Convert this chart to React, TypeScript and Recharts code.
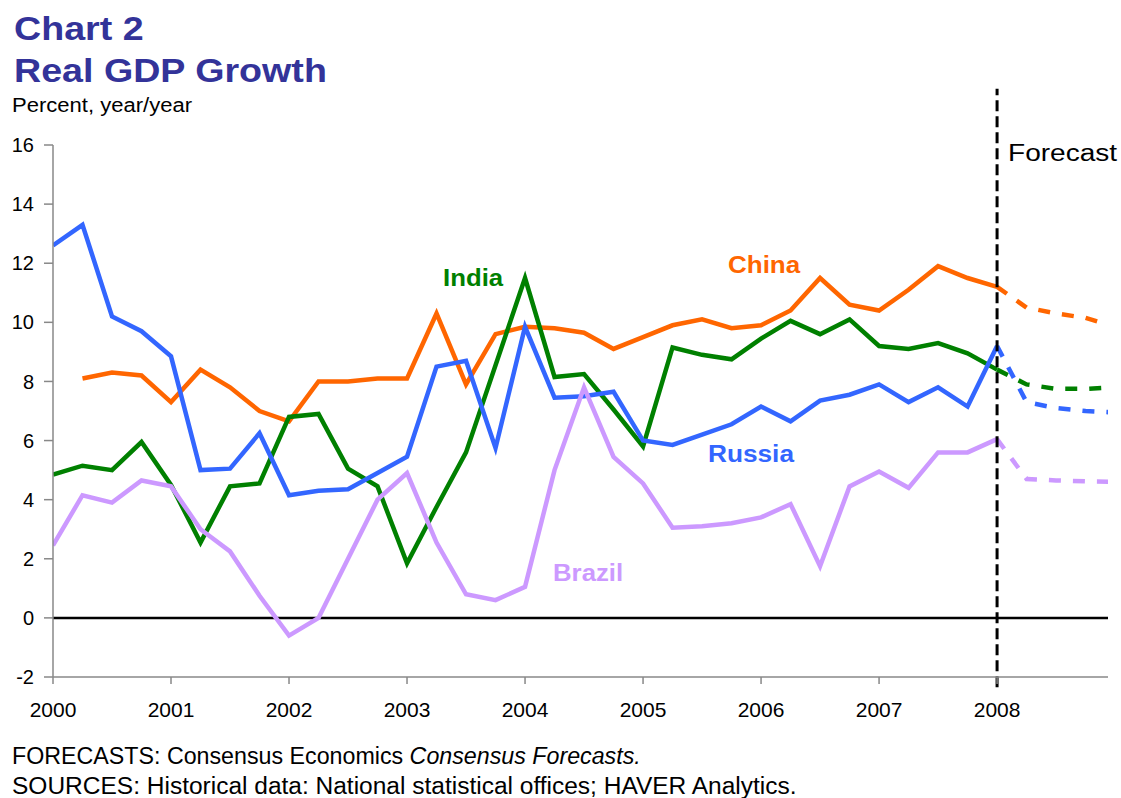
import React from "react";
import { LineChart, Line, XAxis, YAxis, ReferenceLine } from "recharts";

// quarters, historical 2000 Q1 .. 2008 Q1
const histQuarters = [
  "2000 Q1", "2000 Q2", "2000 Q3", "2000 Q4",
  "2001 Q1", "2001 Q2", "2001 Q3", "2001 Q4",
  "2002 Q1", "2002 Q2", "2002 Q3", "2002 Q4",
  "2003 Q1", "2003 Q2", "2003 Q3", "2003 Q4",
  "2004 Q1", "2004 Q2", "2004 Q3", "2004 Q4",
  "2005 Q1", "2005 Q2", "2005 Q3", "2005 Q4",
  "2006 Q1", "2006 Q2", "2006 Q3", "2006 Q4",
  "2007 Q1", "2007 Q2", "2007 Q3", "2007 Q4",
  "2008 Q1",
];
const forecastQuarters = ["2008 Q2", "2008 Q3", "2008 Q4", "2009 Q1"];

const china = [null, 8.1, 8.3, 8.2, 7.3, 8.4, 7.8, 7.0, 6.65, 8.0, 8.0, 8.1, 8.1, 10.3, 7.9, 9.6, 9.85, 9.8, 9.65, 9.1, 9.5, 9.9, 10.1, 9.8, 9.9, 10.4, 11.5, 10.6, 10.4, 11.1, 11.9, 11.5, 11.2];
const india = [4.85, 5.15, 5.0, 5.95, 4.5, 2.55, 4.45, 4.55, 6.8, 6.9, 5.05, 4.45, 1.85, 3.75, 5.6, 8.55, 11.5, 8.15, 8.25, 7.05, 5.8, 9.15, 8.9, 8.75, 9.45, 10.05, 9.6, 10.1, 9.2, 9.1, 9.3, 8.95, 8.4];
const russia = [12.6, 13.3, 10.2, 9.7, 8.85, 5.0, 5.05, 6.25, 4.15, 4.3, 4.35, 4.9, 5.45, 8.5, 8.7, 5.75, 9.85, 7.45, 7.5, 7.65, 6.0, 5.85, 6.2, 6.55, 7.15, 6.65, 7.35, 7.55, 7.9, 7.3, 7.8, 7.15, 9.2];
const brazil = [2.45, 4.15, 3.9, 4.65, 4.45, 3.0, 2.25, 0.75, -0.6, 0.0, 2.0, 4.0, 4.9, 2.55, 0.8, 0.6, 1.05, 5.0, 7.8, 5.45, 4.55, 3.05, 3.1, 3.2, 3.4, 3.85, 1.75, 4.45, 4.95, 4.4, 5.6, 5.6, 6.05];

// Consensus forecasts
const chinaF = [10.5, 10.3, 10.15, 9.85];
const indiaF = [7.9, 7.75, 7.75, 7.8];
const russiaF = [7.3, 7.1, 7.0, 6.95];
const brazilF = [4.7, 4.65, 4.62, 4.6];

const yearTicks = [2000, 2001, 2002, 2003, 2004, 2005, 2006, 2007, 2008];
const valueTicks = [-2, 0, 2, 4, 6, 8, 10, 12, 14, 16];

const FONT = "'Liberation Sans', Arial, Helvetica, sans-serif";

function toYear(q: string) {
  const [y, qq] = q.split(" Q");
  return Number(y) + (Number(qq) - 1) / 4;
}

const last = histQuarters.length - 1;
const rows: any[] = histQuarters.map((q, i) => ({
  t: toYear(q),
  china: china[i],
  india: india[i],
  russia: russia[i],
  brazil: brazil[i],
  chinaF: i === last ? china[i] : null,
  indiaF: i === last ? india[i] : null,
  russiaF: i === last ? russia[i] : null,
  brazilF: i === last ? brazil[i] : null,
}));
forecastQuarters.forEach((q, i) => {
  rows.push({ t: toYear(q), chinaF: chinaF[i], indiaF: indiaF[i], russiaF: russiaF[i], brazilF: brazilF[i] });
});

function Txt({ x, y, size, color = "#000", bold = false, sx = 1, children }: any) {
  return (
    <div
      style={{
        position: "absolute", left: x, top: y - 0.85 * size, fontSize: size, lineHeight: 1,
        fontFamily: FONT, fontWeight: bold ? 700 : 400, color, whiteSpace: "nowrap",
        transform: `scaleX(${sx})`, transformOrigin: "0 0",
      }}
    >
      {children}
    </div>
  );
}

const series = [
  { key: "china", color: "#ff6600" },
  { key: "india", color: "#008000" },
  { key: "russia", color: "#3366ff" },
  { key: "brazil", color: "#cc99ff" },
];

export default function App() {
  return (
    <div style={{ position: "absolute", left: 0, top: 0, width: 1121, height: 798, background: "#fff", overflow: "hidden" }}>
      <div style={{ position: "absolute", left: 0, top: 0 }}>
        <LineChart width={1121} height={720} data={rows} margin={{ top: 145, right: 13, bottom: 3, left: 0 }}>
          <XAxis
            dataKey="t" type="number" domain={[2000, 2008.94]} ticks={yearTicks} allowDataOverflow
            height={40} tickSize={7} tickMargin={18}
            axisLine={{ stroke: "#888", strokeWidth: 1.5 }} tickLine={{ stroke: "#888", strokeWidth: 1.5 }}
            tick={{ fontSize: 21, fill: "#000", fontFamily: FONT }}
          />
          <YAxis
            type="number" domain={[-2, 16]} ticks={valueTicks} width={53} tickSize={9} tickMargin={10}
            axisLine={{ stroke: "#888", strokeWidth: 1.5 }} tickLine={{ stroke: "#888", strokeWidth: 1.5 }}
            tick={{ fontSize: 20, fill: "#000", fontFamily: FONT }}
          />
          <ReferenceLine y={0} stroke="#000" strokeWidth={2.5} />
          {series.map((s) => (
            <Line key={s.key} dataKey={s.key} stroke={s.color} strokeWidth={4.5} dot={false} activeDot={false}
              isAnimationActive={false} strokeLinejoin="miter" />
          ))}
          {series.map((s) => (
            <Line key={s.key + "F"} dataKey={s.key + "F"} stroke={s.color} strokeWidth={4.5} dot={false} activeDot={false}
              strokeDasharray="12 12" isAnimationActive={false} />
          ))}
          <ReferenceLine
            segment={[{ x: 2008, y: -2.35 }, { x: 2008, y: 17.9 }]} ifOverflow="visible"
            stroke="#000" strokeWidth={3} strokeDasharray="11 5"
          />
        </LineChart>
      </div>

      <Txt x={14} y={40} size={33} bold color="#333399" sx={1.14}>Chart 2</Txt>
      <Txt x={14} y={82} size={33} bold color="#333399" sx={1.14}>Real GDP Growth</Txt>
      <Txt x={12} y={113} size={19.5} sx={1.13}>Percent, year/year</Txt>

      <Txt x={443} y={287} size={23} bold color="#008000" sx={1.12}>India</Txt>
      <Txt x={728} y={274} size={23} bold color="#ff6600" sx={1.13}>China</Txt>
      <Txt x={708} y={463} size={23} bold color="#3366ff" sx={1.14}>Russia</Txt>
      <Txt x={553} y={582} size={23} bold color="#cc99ff" sx={1.12}>Brazil</Txt>
      <Txt x={1008} y={162} size={23} sx={1.22}>Forecast</Txt>

      <Txt x={12} y={765} size={23} sx={1.01}>
        FORECASTS: Consensus Economics <i>Consensus Forecasts.</i>
      </Txt>
      <Txt x={12} y={795} size={23} sx={1.065}>
        SOURCES: Historical data: National statistical offices; HAVER Analytics.
      </Txt>
    </div>
  );
}
